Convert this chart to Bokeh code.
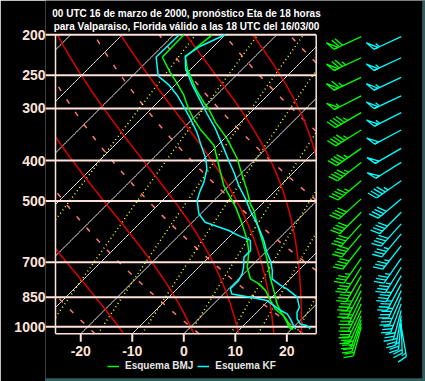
import numpy as np
from bokeh.plotting import figure
from bokeh.models import Range1d, FixedTicker, Legend, LegendItem, Label
from bokeh.core.properties import value
from bokeh.embed import file_html
from bokeh.resources import INLINE

# ---------------- texts / ticks ----------------
TITLE_1 = "00 UTC 16 de marzo de 2000, pronóstico Eta de 18 horas"
TITLE_2 = "para Valparaiso, Florida válido a las 18 UTC del 16/03/00"
P_TICKS = [1000, 850, 700, 500, 400, 300, 250, 200]
T_TICKS = [-20, -10, 0, 10, 20]
SERIES_NAMES = ["Esquema BMJ", "Esquema KF"]

# ---------------- sounding data (hPa, degC) ----------------
BMJ_T_P = [1014, 1002, 966, 931, 881, 819, 761, 694, 663, 621, 567, 527, 508, 472, 434, 396, 355, 324, 301, 290, 269, 241, 226, 214, 200]
BMJ_T = [20.4, 19.4, 17.5, 15.2, 12.3, 9.1, 5.8, 2.0, 0.0, -2.9, -7.1, -10.3, -12.3, -15.5, -19.4, -23.6, -29.4, -34.9, -38.8, -41.1, -45.3, -50.8, -53.4, -53.1, -52.5]
BMJ_TD_P = [1014, 1002, 975, 940, 906, 865, 819, 789, 768, 720, 663, 621, 567, 517, 472, 459, 426, 396, 368, 355, 336, 318, 301, 279, 260, 246, 226, 200]
BMJ_TD = [20.1, 19.1, 17.8, 15.8, 12.9, 10.4, 7.5, 4.9, 2.3, -0.6, -3.2, -5.8, -10.0, -14.5, -19.5, -21.0, -24.3, -27.5, -30.7, -33.0, -36.6, -39.8, -42.7, -46.3, -50.2, -53.4, -57.9, -58.0]
KF_T_P = [1012, 1002, 993, 984, 957, 923, 898, 849, 811, 796, 768, 733, 694, 663, 621, 567, 527, 494, 459, 426, 400, 375, 336, 309, 284, 264, 241, 225, 213, 200]
KF_T = [23.6, 23.0, 22.2, 20.7, 19.1, 17.8, 17.3, 14.9, 11.3, 9.4, 6.5, 4.9, 2.6, 0.3, -2.6, -7.1, -11.0, -14.2, -18.1, -21.7, -24.9, -28.1, -33.6, -38.2, -42.7, -46.6, -51.1, -53.6, -52.6, -50.0]
KF_TD_P = [1012, 993, 957, 931, 914, 865, 849, 834, 811, 775, 747, 720, 681, 657, 621, 605, 588, 562, 536, 498, 472, 451, 419, 396, 375, 342, 318, 301, 279, 264, 251, 226, 200]
KF_TD = [20.8, 19.7, 17.8, 16.2, 14.3, 9.7, 5.8, 1.6, 0.3, 0.3, -0.3, -1.3, -3.2, -3.2, -5.2, -8.4, -11.3, -17.5, -20.4, -23.3, -24.6, -25.5, -27.5, -29.7, -32.3, -36.6, -40.4, -43.4, -47.6, -51.1, -55.0, -59.1, -58.9]

# ---------------- winds (hPa, deg, kt) ----------------
WIND_P = [202, 227, 253, 280, 307, 338, 374, 404, 447, 494, 532, 567, 599, 639, 686, 720, 754, 789, 819, 849, 881, 914, 940, 961, 980, 1000]
BMJ_DIR = [245, 245, 245, 243, 240, 238, 235, 232, 230, 228, 225, 222, 220, 218, 215, 212, 210, 208, 207, 205, 205, 205, 203, 200, 198, 195]
BMJ_SPD = [70, 75, 65, 55, 45, 45, 45, 45, 45, 40, 40, 40, 40, 40, 35, 35, 35, 35, 35, 35, 35, 30, 30, 30, 25, 20]
KF_DIR = [245, 245, 245, 245, 243, 242, 240, 238, 235, 230, 225, 222, 220, 218, 215, 212, 210, 208, 205, 203, 200, 195, 190, 185, 178, 170]
KF_SPD = [55, 55, 55, 55, 55, 50, 50, 50, 45, 40, 40, 40, 35, 35, 35, 35, 35, 35, 35, 30, 30, 30, 25, 25, 20, 15]

# ---------------- reference-line families ----------------
ISOTHERMS = list(range(-110, 41, 10))            # degC
DRY_THETA_C = [-20, 0, 20, 40, 60, 80, 100]      # theta (degC at 1000 hPa)
MOIST_T1000 = [-14, 0, 9, 16, 21.5, 26, 30]      # degC at 1000 hPa
MIX_RATIOS = [0.1, 0.4, 1, 2, 4, 7, 10, 16, 24]  # g/kg

# ---------------- geometry / style ----------------
W, H = 425, 381
FRAME_LEFT = 45                                   # px, canvas (end of pressure labels)
BOX_LEFT, BOX_RIGHT = 55.0, 315.7                 # px, skew-T box
BOX_TOP, BOX_BOTTOM = 34.3, 333.3                 # px
EDGE = 3.3                                        # px, outer teal border
P_TOP, P_BOT = 200.0, 1039.0
PX_PER_DEG = 5.152
X_LEFT = -24.9
X_RIGHT = X_LEFT + (BOX_RIGHT - BOX_LEFT) / PX_PER_DEG
K = (BOX_BOTTOM - BOX_TOP) / np.log(P_BOT / P_TOP)   # px per ln(p)
SKEW = K / PX_PER_DEG                                # 45 degree isotherms
X0 = X_LEFT - (BOX_LEFT - FRAME_LEFT) / PX_PER_DEG
X1 = X_LEFT + (W - BOX_LEFT) / PX_PER_DEG
Y_BOTTOM = P_BOT * np.exp((H - BOX_BOTTOM) / K)
Y_TOP = P_TOP * np.exp(-BOX_TOP / K)

PINK = "#ffe2d8"
GREEN = "#00ff00"
CYAN = "#00ffff"
TEAL = "#2f5f5c"
FONT = "Liberation Sans"


def skx(t, p):
    return np.asarray(t, float) + SKEW * np.log(P_BOT / np.asarray(p, float))


def es(tc):
    return 6.112 * np.exp(17.67 * tc / (tc + 243.5))


def clip_max(x, pr, xmax):
    segs, cur, prev = [], [], None
    lp = np.log(pr)
    for i in range(len(x)):
        ins = x[i] <= xmax
        if i > 0 and ins != prev:
            t = (xmax - x[i - 1]) / (x[i] - x[i - 1])
            c = (xmax, float(np.exp(lp[i - 1] + t * (lp[i] - lp[i - 1]))))
            if prev:
                cur.append(c)
                segs.append(cur)
                cur = []
            else:
                cur = [c]
        if ins:
            cur.append((float(x[i]), float(pr[i])))
        prev = ins
    if len(cur) > 1:
        segs.append(cur)
    return [s for s in segs if len(s) > 1]


def clip_box(x, pr):
    out = []
    for s in clip_max(np.asarray(x, float), np.asarray(pr, float), X_RIGHT):
        xs_ = np.array([q[0] for q in s])
        ps_ = np.array([q[1] for q in s])
        for s2 in clip_max(-xs_, ps_, -X_LEFT):
            out.append(([-q[0] for q in s2], [q[1] for q in s2]))
    return out


def family(curves):
    xs, ys = [], []
    for x, pr in curves:
        for a, b in clip_box(x, pr):
            xs.append(a)
            ys.append(b)
    return xs, ys


pp = np.geomspace(P_BOT, P_TOP, 200)

p = figure(width=W, height=H, x_range=Range1d(X0, X1), y_range=Range1d(Y_BOTTOM, Y_TOP),
           y_axis_type="log", output_backend="svg", toolbar_location=None,
           min_border_left=FRAME_LEFT, min_border_right=0, min_border_top=0, min_border_bottom=0)
p.background_fill_color = "black"
p.border_fill_color = "black"
p.outline_line_color = None
p.grid.visible = False
p.xaxis.visible = False

# outer teal border (right and bottom edges of the image)
p.quad(left=[X1 - EDGE / PX_PER_DEG, X0], right=[X1, X1],
       bottom=[Y_BOTTOM, Y_BOTTOM], top=[Y_TOP, Y_BOTTOM * np.exp(-EDGE / K)],
       fill_color=TEAL, line_color=None)

# isotherms
xs, ys = family([(skx(np.full_like(pp, t), pp), pp) for t in ISOTHERMS])
p.multi_line(xs, ys, line_color="#f2ebe6", line_width=1)

# dry adiabats
xs, ys = family([(skx((th + 273.15) * (pp / 1000.0) ** 0.2857 - 273.15, pp), pp) for th in DRY_THETA_C])
p.multi_line(xs, ys, line_color="#ff7878", line_width=1.5, line_dash="5 10")

# mixing-ratio lines
curves = []
for w in MIX_RATIOS:
    lg = np.log(w * pp / (622.0 + w) / 6.112)
    curves.append((skx(243.5 * lg / (17.67 - lg), pp), pp))
xs, ys = family(curves)
p.multi_line(xs, ys, line_color="#ffff00", line_width=1.5, line_dash="1 3")

# moist (pseudo) adiabats
Rd, Cp, Lv, EPS = 287.04, 1005.7, 2.501e6, 0.622


def dtdlnp(tk, pr):
    e = es(tk - 273.15)
    rs = EPS * e / (pr - e)
    return (Rd * tk + Lv * rs) / (Cp + Lv * Lv * rs * EPS / (Rd * tk * tk))


def moist(t0):
    out = {}
    for pend in (P_BOT, P_TOP):
        lnp = np.linspace(np.log(1000.0), np.log(pend), 200)
        tk = t0 + 273.15
        vals = [(1000.0, tk)]
        for i in range(len(lnp) - 1):
            h = lnp[i + 1] - lnp[i]
            k1 = dtdlnp(tk, np.exp(lnp[i]))
            k2 = dtdlnp(tk + k1 * h / 2, np.exp(lnp[i] + h / 2))
            tk = tk + k2 * h
            vals.append((np.exp(lnp[i + 1]), tk))
        out[pend] = vals
    allv = out[P_BOT][::-1] + out[P_TOP][1:]
    pr = np.array([v[0] for v in allv])
    return skx(np.array([v[1] - 273.15 for v in allv]), pr), pr


xs, ys = family([moist(t0) for t0 in MOIST_T1000])
p.multi_line(xs, ys, line_color="#dc0000", line_width=1.5)

# isobars (with their outer tick marks) and box
X_TICK = X_LEFT - (BOX_LEFT - FRAME_LEFT) / PX_PER_DEG
p.multi_line([[X_TICK, X_RIGHT]] * len(P_TICKS), [[v, v] for v in P_TICKS], line_color=PINK, line_width=2)
p.multi_line([[X_LEFT, X_LEFT], [X_RIGHT, X_RIGHT], [X_LEFT, X_RIGHT]],
             [[P_BOT, P_TOP], [P_BOT, P_TOP], [P_BOT, P_BOT]], line_color=PINK, line_width=1.5)

# soundings
r_bmj = p.line(skx(BMJ_T, BMJ_T_P), BMJ_T_P, line_color=GREEN, line_width=1.5)
p.line(skx(BMJ_TD, BMJ_TD_P), BMJ_TD_P, line_color=GREEN, line_width=1.5)
r_kf = p.line(skx(KF_T, KF_T_P), KF_T_P, line_color=CYAN, line_width=1.5)
p.line(skx(KF_TD, KF_TD_P), KF_TD_P, line_color=CYAN, line_width=1.5)

# left (pressure) axis: labels only, ticks are part of the isobars
ay = p.yaxis[0]
ay.ticker = FixedTicker(ticks=P_TICKS)
ay.major_label_overrides = {v: str(v) for v in P_TICKS}
ay.axis_line_color = None
ay.major_tick_line_color = None
ay.minor_tick_line_color = None
ay.major_tick_in = 0
ay.major_tick_out = 0
ay.major_label_standoff = 0
ay.major_label_text_color = PINK
ay.major_label_text_font = FONT
ay.major_label_text_font_size = "14px"
ay.major_label_text_font_style = "bold"

# bottom (temperature) ticks and labels
p_tick_end = P_BOT * np.exp(8 / K)
p.segment(x0=T_TICKS, y0=[P_BOT] * len(T_TICKS), x1=T_TICKS, y1=[p_tick_end] * len(T_TICKS),
          line_color=PINK, line_width=2)
p.text(x=T_TICKS, y=[P_BOT * np.exp(17 / K)] * len(T_TICKS), text=[str(t) for t in T_TICKS],
       text_align="center", text_baseline="middle", text_color=PINK,
       text_font=value(FONT), text_font_size="14px", text_font_style="bold")

# title
for txt, base in ((TITLE_1, 12.5), (TITLE_2, 25.5)):
    p.add_layout(Label(x=186 - FRAME_LEFT, y=H - base, x_units="screen", y_units="screen",
                       text=txt, text_align="center", text_baseline="alphabetic",
                       text_color="white", text_font=FONT, text_font_size="10px",
                       text_font_style="bold"))

# legend
leg = Legend(items=[LegendItem(label=SERIES_NAMES[0], renderers=[r_bmj]),
                    LegendItem(label=SERIES_NAMES[1], renderers=[r_kf])],
             location=(107 - FRAME_LEFT, H - 371.7), orientation="horizontal",
             background_fill_alpha=0, border_line_alpha=0, padding=0, margin=0,
             spacing=4, glyph_width=12, glyph_height=12, label_height=12,
             label_standoff=6, label_text_color="#e6e6e6", label_text_font=FONT,
             label_text_font_size="10px", label_text_font_style="bold")
p.add_layout(leg)

# ---------------- wind barbs ----------------
STAFF, FEATH, STEP, PEN = 30.0, 10.0, 3.5, 4.5
X_BMJ_PX, X_KF_PX = 360.7, 400.7


def barbs(xpx, plist, dirs, spds):
    x0 = X_LEFT + (xpx - BOX_LEFT) / PX_PER_DEG
    xs, ys = [], []
    for p0, wd, sp in zip(plist, dirs, spds):
        a = np.radians(wd)
        ux, uy = np.sin(a), np.cos(a)
        ang = np.arctan2(uy, ux) - np.radians(65)
        fx, fy = np.cos(ang), np.sin(ang)

        def P(d, off=0.0):
            return (x0 + (d * ux + off * fx) / PX_PER_DEG, p0 * np.exp(-(d * uy + off * fy) / K))

        def add(seg):
            xs.append([s[0] for s in seg])
            ys.append([s[1] for s in seg])

        add([P(0), P(STAFF)])
        pos = STAFF
        sp = int(5 * round(sp / 5))
        n50, rest = divmod(sp, 50)
        n10, rest = divmod(rest, 10)
        n5 = rest // 5
        for _ in range(n50):
            add([P(pos), P(pos, FEATH), P(pos - PEN), P(pos)])
            pos -= PEN + 1.5
        for _ in range(n10):
            add([P(pos), P(pos, FEATH)])
            pos -= STEP
        for _ in range(n5):
            if pos == STAFF:
                pos -= STEP
            add([P(pos), P(pos, FEATH / 2)])
    return xs, ys


gx, gy = barbs(X_BMJ_PX, WIND_P, BMJ_DIR, BMJ_SPD)
p.multi_line(gx, gy, line_color=GREEN, line_width=1.3)
cx, cy = barbs(X_KF_PX, WIND_P, KF_DIR, KF_SPD)
p.multi_line(cx, cy, line_color=CYAN, line_width=1.3)

open("out.html", "w").write(file_html(p, INLINE))
